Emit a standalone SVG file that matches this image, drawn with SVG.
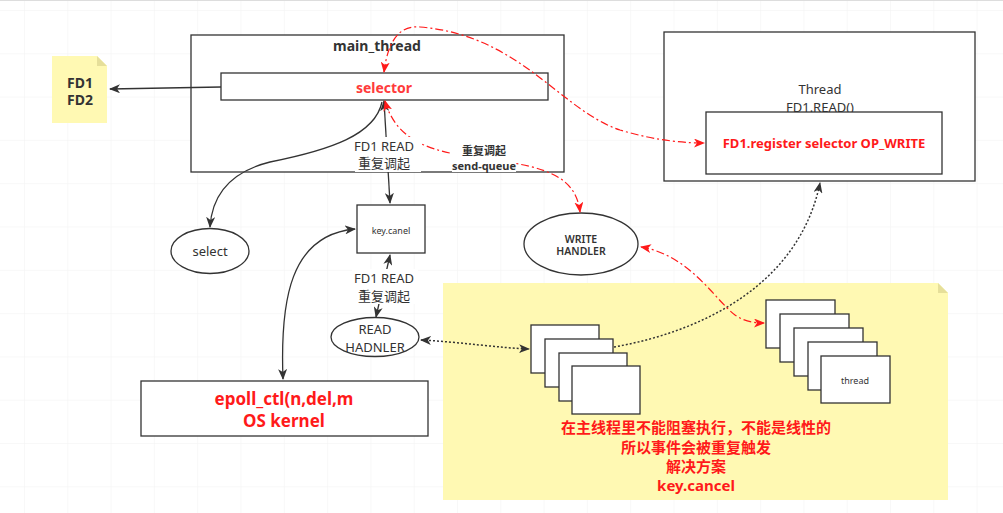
<svg xmlns="http://www.w3.org/2000/svg" width="1003" height="513" viewBox="0 0 1003 513">
<style>
text{font-family:"Noto Sans","Noto Sans CJK SC",sans-serif;fill:#333;text-anchor:middle;dominant-baseline:central}
.box{fill:#fff;stroke:#333;stroke-width:1.3}
.note{fill:#fff9b3;stroke:none}
.fold{fill:#e6df9a}
.b{font-weight:bold}
.red{fill:#ff1a1a}
.edge{fill:none;stroke:#333;stroke-width:1.3}
.dot{fill:none;stroke:#333;stroke-width:1.5;stroke-dasharray:2 2}
.rd{fill:none;stroke:#ff1a1a;stroke-width:1.2;stroke-dasharray:8 3 2 3}
.lbl{fill:#fff}
</style>
<defs>
<pattern id="grid" width="43.3" height="43.3" patternUnits="userSpaceOnUse" x="24" y="10">
<path d="M43.3,0 L0,0 L0,43.3" fill="none" stroke="#f2f2f2" stroke-width="1"/>
</pattern>
<marker id="ab" markerUnits="userSpaceOnUse" markerWidth="11" markerHeight="9" refX="10" refY="4.5" orient="auto-start-reverse">
<path d="M0,0 L11,4.5 L0,9 L3,4.5 z" fill="#333"/>
</marker>
<marker id="ar" markerUnits="userSpaceOnUse" markerWidth="11" markerHeight="9" refX="10" refY="4.5" orient="auto-start-reverse">
<path d="M0,0 L11,4.5 L0,9 L3,4.5 z" fill="#ff1a1a"/>
</marker>
</defs>
<rect width="1003" height="513" fill="#fff"/>
<rect width="1003" height="513" fill="url(#grid)"/>
<line x1="0" y1="0.5" x2="1003" y2="0.5" stroke="#ddd"/>

<g id="yellow-note">
<path class="note" d="M443,283 L938,283 L948,293 L948,500 L443,500 z"/>
<path class="fold" d="M938,283 L948,293 L938,293 z"/>
<text class="b red" x="696" y="427" font-size="15">在主线程里不能阻塞执行，不能是线性的</text>
<text class="b red" x="696" y="447" font-size="15">所以事件会被重复触发</text>
<text class="b red" x="696" y="466" font-size="15">解决方案</text>
<text class="b red" x="696" y="485" font-size="15">key.cancel</text>
</g>

<g id="main_thread">
<rect class="box" x="191" y="35" width="373" height="137"/>
<text class="b" x="377" y="45" font-size="14">main_thread</text>
</g>
<g id="selector">
<rect class="box" x="221" y="73" width="327" height="27"/>
<text class="b" x="384" y="87" font-size="14" style="fill:#ff3b3b">selector</text>
</g>
<g id="fd-note">
<path class="note" d="M52,56 L97,56 L107,66 L107,123 L52,123 z"/>
<path class="fold" d="M97,56 L107,66 L97,66 z"/>
<text class="b" x="80" y="82" font-size="14">FD1</text>
<text class="b" x="80" y="99" font-size="14">FD2</text>
</g>
<g id="thread">
<rect class="box" x="664" y="32" width="311" height="149"/>
<text x="820" y="89" font-size="13">Thread</text>
<text x="820" y="107" font-size="13">FD1.READ()</text>
</g>
<g id="register">
<rect class="box" x="706" y="112" width="236" height="62"/>
<text class="b red" x="824" y="143" font-size="13">FD1.register selector OP_WRITE</text>
</g>
<g id="select">
<ellipse class="box" cx="210" cy="251" rx="39" ry="22.5"/>
<text x="210" y="251" font-size="13">select</text>
</g>
<g id="keycanel">
<rect class="box" x="357" y="205" width="68" height="48"/>
<text x="391" y="230" font-size="9">key.canel</text>
</g>
<g id="read-handler">
<ellipse class="box" cx="375" cy="337" rx="44" ry="19.5"/>
<text x="375" y="329" font-size="13">READ</text>
<text x="375" y="347" font-size="13">HADNLER</text>
</g>
<g id="write-handler">
<ellipse class="box" cx="581" cy="244" rx="57" ry="31"/>
<text x="581" y="239" font-size="10.5" font-weight="600">WRITE</text>
<text x="581" y="251" font-size="10.5" font-weight="600">HANDLER</text>
</g>
<g id="epoll">
<rect class="box" x="141" y="381" width="287" height="55"/>
<text class="b red" x="284" y="398" font-size="17">epoll_ctl(n,del,m</text>
<text class="b red" x="284" y="420" font-size="17">OS kernel</text>
</g>
<g id="stack-left">
<rect class="box" x="531" y="325" width="68" height="48"/>
<rect class="box" x="545" y="339" width="68" height="48"/>
<rect class="box" x="559" y="353" width="68" height="48"/>
<rect class="box" x="572" y="366" width="68" height="48"/>
</g>
<g id="stack-right">
<rect class="box" x="766" y="300" width="69" height="48"/>
<rect class="box" x="780" y="314" width="69" height="48"/>
<rect class="box" x="794" y="328" width="69" height="48"/>
<rect class="box" x="808" y="342" width="69" height="48"/>
<rect class="box" x="821" y="356" width="69" height="47"/>
<text x="855" y="380" font-size="9">thread</text>
</g>

<g id="connectors">
<path class="edge" d="M221,87 L110,89" marker-end="url(#ab)"/>
<path class="edge" d="M382,102 C375,135 330,150 270,162 C230,172 212,195 210,227" marker-end="url(#ab)"/>
<path class="edge" d="M384,101 L390,203" marker-start="url(#ab)" marker-end="url(#ab)"/>
<path class="edge" d="M390,255 L376,317" marker-start="url(#ab)" marker-end="url(#ab)"/>
<path class="edge" d="M283,379 C280,300 290,235 355,229" marker-start="url(#ab)" marker-end="url(#ab)"/>
<path class="dot" d="M421,340 C460,342 500,348 529,349" marker-start="url(#ab)" marker-end="url(#ab)"/>
<path class="dot" d="M614,347 C710,330 800,280 820,183" marker-end="url(#ab)"/>
<path class="rd" d="M384,72 C388,40 400,25 420,27 C520,35 560,110 620,130 C660,142 690,143 704,143" marker-start="url(#ar)" marker-end="url(#ar)"/>
<path class="rd" d="M385,101 C395,135 420,148 460,155 C530,165 575,168 580,212" marker-start="url(#ar)" marker-end="url(#ar)"/>
<path class="rd" d="M641,247 C690,255 715,300 735,315 C745,322 755,323 764,323" marker-start="url(#ar)" marker-end="url(#ar)"/>
<rect class="lbl" x="355" y="137" width="66" height="35"/>
<text x="384" y="146" font-size="13">FD1 READ</text>
<text x="384" y="163" font-size="13">重复调起</text>
<rect class="lbl" x="352" y="269" width="66" height="35"/>
<text x="384" y="278" font-size="13">FD1 READ</text>
<text x="384" y="296" font-size="13">重复调起</text>
<rect class="lbl" x="452" y="143" width="64" height="29"/>
<text class="b" x="484" y="150" font-size="11">重复调起</text>
<text class="b" x="484" y="165" font-size="11">send-queue</text>
</g>
</svg>
